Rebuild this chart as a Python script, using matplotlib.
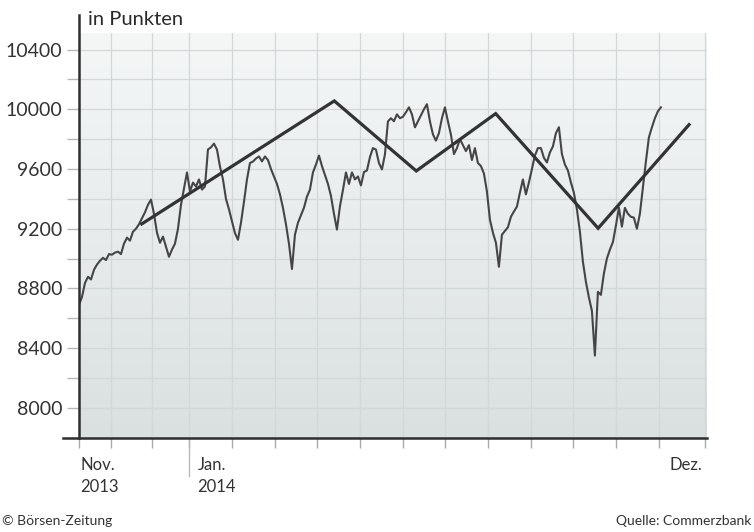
import matplotlib
matplotlib.use("Agg")
import matplotlib.pyplot as plt
import numpy as np

# DAX daily closes, evenly spaced from the axis start to early Dec 2014
dax_values = [
    8690, 8743, 8837, 8878, 8860, 8925, 8960, 8985, 9005, 8990,
    9030, 9026, 9040, 9046, 9030, 9100, 9140, 9120, 9180, 9200,
    9230, 9270, 9310, 9360, 9395, 9300, 9173, 9106, 9147, 9079,
    9012, 9060, 9100, 9200, 9360, 9470, 9577, 9450, 9509, 9483,
    9530, 9462, 9483, 9731, 9745, 9770, 9730, 9617, 9530, 9400,
    9330, 9250, 9170, 9126, 9240, 9380, 9530, 9640, 9650, 9670,
    9684, 9651, 9684, 9660, 9600, 9550, 9500, 9430, 9340, 9230,
    9100, 8930, 9160, 9240, 9290, 9340, 9415, 9462, 9577, 9630,
    9690, 9620, 9560, 9500, 9420, 9300, 9194, 9350, 9460, 9577,
    9500, 9577, 9530, 9550, 9490, 9580, 9590, 9680, 9740, 9730,
    9640, 9597, 9698, 9919, 9940, 9920, 9966, 9940, 9950, 9980,
    10013, 9966, 9879, 9919, 9960, 10000, 10034, 9919, 9832, 9790,
    9840, 9940, 10013, 9919, 9830, 9700, 9740, 9800, 9760, 9720,
    9760, 9660, 9740, 9640, 9620, 9570, 9450, 9261, 9173, 9106,
    8945, 9160, 9185, 9210, 9280, 9315, 9348, 9442, 9530, 9430,
    9510, 9600, 9690, 9740, 9740, 9675, 9644, 9711, 9751, 9840,
    9880, 9700, 9630, 9590, 9510, 9440, 9330, 9180, 8979, 8844,
    8740, 8650, 8350, 8777, 8757, 8900, 9000, 9060, 9110, 9220,
    9341, 9214, 9340, 9300, 9280, 9274, 9200, 9300, 9476, 9650,
    9812, 9879, 9940, 9987, 10013,
]
series_start = -2.58   # months relative to 1 Jan 2014
series_end = 11.05

# trend channel drawn over the index
trend_months = [-1.11, 3.40, 5.32, 7.18, 9.58, 11.71]
trend_values = [9232, 10056, 9587, 9971, 9203, 9897]

# x axis: month ticks (Jan 2014 = 0)
tick_months = [-2.58, -1.83, -0.87, 0, 1, 2, 3, 4, 5, 6, 7, 8, 9, 10, 11, 12.08]
tick_labels = {-2.58: "Nov.\n2013", 0: "Jan.\n2014", 11: "Dez."}
y_major = [8000, 8400, 8800, 9200, 9600, 10000, 10400]
y_minor = np.arange(7800, 10600, 200)

font = "Lato"
ink = "#2e2e2e"

fig = plt.figure(figsize=(7.54, 5.32), dpi=100)
ax = fig.add_axes([79 / 754, 1 - 438 / 532, 628 / 754, 405 / 532])
xlim = (-2.58, 12.13)
ylim = (7798, 10511)
ax.set_xlim(*xlim)
ax.set_ylim(*ylim)

# grey gradient background
grad = np.linspace(0, 1, 256).reshape(-1, 1)
top_c = np.array([245, 247, 247]) / 255
bot_c = np.array([218, 224, 224]) / 255
img = top_c + (bot_c - top_c) * grad[:, :, None] * np.ones((1, 1, 3))
ax.imshow(img[:, 0:1, :], extent=[xlim[0], xlim[1], ylim[0], ylim[1]],
          aspect="auto", origin="upper", zorder=0)

for v in y_minor:
    ax.axhline(v, color="#d2d8d8", lw=0.9, zorder=1)
for m in tick_months[1:]:
    ax.axvline(m, color="#d2d8d8", lw=0.9, zorder=1)

x = np.linspace(series_start, series_end, len(dax_values))
ax.plot(x, dax_values, color="#454545", lw=1.5, zorder=3)
ax.plot(trend_months, trend_values, color="#333333", lw=2.3,
        solid_joinstyle="miter", zorder=4)

for s in ax.spines.values():
    s.set_visible(False)

# axis lines
ax.plot([0, 0], [0, 1.045], transform=ax.transAxes, color=ink, lw=1.8,
        clip_on=False, zorder=5)
ax.plot([-0.026, 1.0], [0, 0], transform=ax.transAxes, color=ink, lw=1.8,
        clip_on=False, zorder=5)

ax.set_yticks(y_major)
ax.set_yticks(y_minor, minor=True)
ax.set_yticklabels([str(v) for v in y_major], fontsize=14, family=font,
                   color="#333333")
ax.tick_params(axis="y", which="both", length=9, width=1, color="#b5b8b8",
               pad=3)

ax.set_xticks(tick_months)
ax.set_xticklabels([])
ax.tick_params(axis="x", length=7, width=1, color="#a8abab")
# longer tick at the year change
ax.plot([0, 0], [0, -0.095], transform=ax.get_xaxis_transform(),
        color="#b8bbbb", lw=1, clip_on=False)

offsets = {-2.58: 1, 0: 6, 11: 8}
for m, lab in tick_labels.items():
    ax.annotate(lab, xy=(m, 0), xycoords=("data", "axes fraction"),
                xytext=(offsets[m], -14), textcoords="offset points",
                ha="left", va="top", fontsize=12, family=font,
                color="#333333", linespacing=1.45)

fig.text(88 / 754, 1 - 11 / 532, "in Punkten", fontsize=14.5, family=font,
         color="#2a2a2a", ha="left", va="top")
fig.text(2 / 754, 1 - 521 / 532, "\u00a9 B\u00f6rsen-Zeitung", fontsize=10,
         family=font, color="#333333", ha="left", va="center")
fig.text(751 / 754, 1 - 521 / 532, "Quelle: Commerzbank", fontsize=10,
         family=font, color="#333333", ha="right", va="center")

fig.savefig("out.png", dpi=100, facecolor="white")
